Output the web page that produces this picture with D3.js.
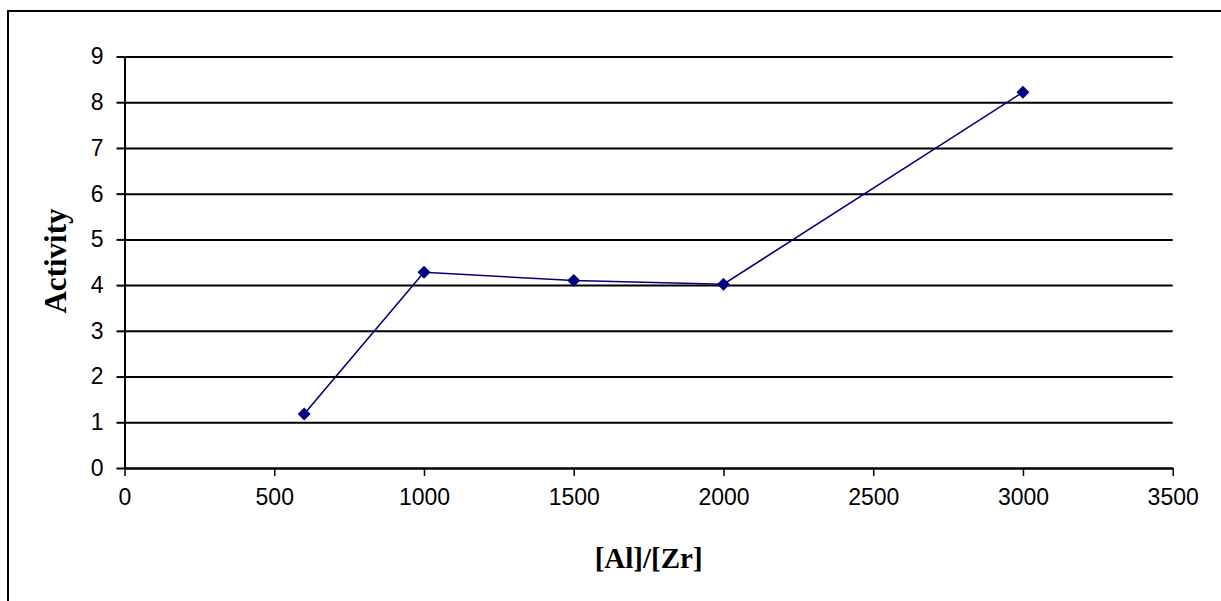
<!DOCTYPE html>
<html>
<head>
<meta charset="utf-8">
<script src="https://cdn.jsdelivr.net/npm/d3@7"></script>
<style>
  html, body { margin: 0; padding: 0; background: #fff; }
  svg { display: block; }
  .tick text { font-family: "Liberation Sans", Arial, sans-serif; font-size: 23px; fill: #000; }
  .title { font-family: "Liberation Serif", "Times New Roman", serif; font-weight: bold; font-size: 29px; fill: #000; }
</style>
</head>
<body>
<svg id="chart" width="1221" height="601"></svg>
<script>
// Catalyst activity against the [Al]/[Zr] molar ratio
const ratios = [600, 1000, 1500, 2000, 3000];
const activity = [1.18, 4.28, 4.1, 4.02, 8.22];
const xTickValues = [0, 500, 1000, 1500, 2000, 2500, 3000, 3500];
const yTickValues = [0, 1, 2, 3, 4, 5, 6, 7, 8, 9];
const xLabel = "[Al]/[Zr]";
const yLabel = "Activity";

const svg = d3.select("#chart");
const W = 1221, H = 601;
const plot = { left: 124.5, right: 1172.7, top: 56.5, bottom: 468 };

const x = d3.scaleLinear().domain([0, 3500]).range([plot.left, plot.right]);
const y = d3.scaleLinear().domain([0, 9]).range([plot.bottom, plot.top]);

// outer chart frame (runs off the right and bottom edges)
svg.append("rect")
  .attr("x", 8).attr("y", 11)
  .attr("width", W + 10).attr("height", H + 10)
  .attr("fill", "#fff").attr("stroke", "#000").attr("stroke-width", 2);

// horizontal gridlines
svg.append("g")
  .attr("transform", `translate(${plot.left},0)`)
  .call(d3.axisRight(y).tickValues(yTickValues).tickSize(plot.right - plot.left).tickFormat(""))
  .call(g => g.select(".domain").remove())
  .call(g => g.selectAll("line").attr("stroke", "#000").attr("stroke-width", 2));

// y axis
svg.append("g")
  .attr("transform", `translate(${plot.left},0)`)
  .call(d3.axisLeft(y).tickValues(yTickValues).tickSize(8).tickSizeOuter(0).tickPadding(13).tickFormat(d3.format("d")))
  .call(g => g.select(".domain").attr("stroke", "#000").attr("stroke-width", 2))
  .call(g => g.selectAll("line").attr("stroke", "#000").attr("stroke-width", 2))
  .call(g => g.selectAll("text").attr("font-family", null).attr("font-size", null));

// x axis
svg.append("g")
  .attr("transform", `translate(0,${plot.bottom})`)
  .call(d3.axisBottom(x).tickValues(xTickValues).tickSize(8).tickSizeOuter(0).tickPadding(13).tickFormat(d3.format("d")))
  .call(g => g.select(".domain").attr("stroke", "#000").attr("stroke-width", 2))
  .call(g => g.selectAll("line").attr("stroke", "#000").attr("stroke-width", 1.5))
  .call(g => g.selectAll("text").attr("font-family", null).attr("font-size", null));

// data series
const pts = ratios.map((r, i) => [r, activity[i]]);
svg.append("path")
  .datum(pts)
  .attr("fill", "none")
  .attr("stroke", "#000080")
  .attr("stroke-width", 1.6)
  .attr("d", d3.line().x(d => x(d[0])).y(d => y(d[1])));

svg.append("g").selectAll("path")
  .data(pts)
  .join("path")
  .attr("transform", d => `translate(${x(d[0])},${y(d[1])})`)
  .attr("d", "M0,-6.5L6.5,0L0,6.5L-6.5,0Z")
  .attr("fill", "#000080");

// axis titles
svg.append("text")
  .attr("class", "title")
  .attr("x", (plot.left + plot.right) / 2)
  .attr("y", 568)
  .attr("text-anchor", "middle")
  .text(xLabel);

svg.append("text")
  .attr("class", "title")
  .attr("font-size", 31)
  .style("font-size", "31px")
  .attr("transform", `translate(66,261) rotate(-90)`)
  .attr("text-anchor", "middle")
  .text(yLabel);
</script>
</body>
</html>
